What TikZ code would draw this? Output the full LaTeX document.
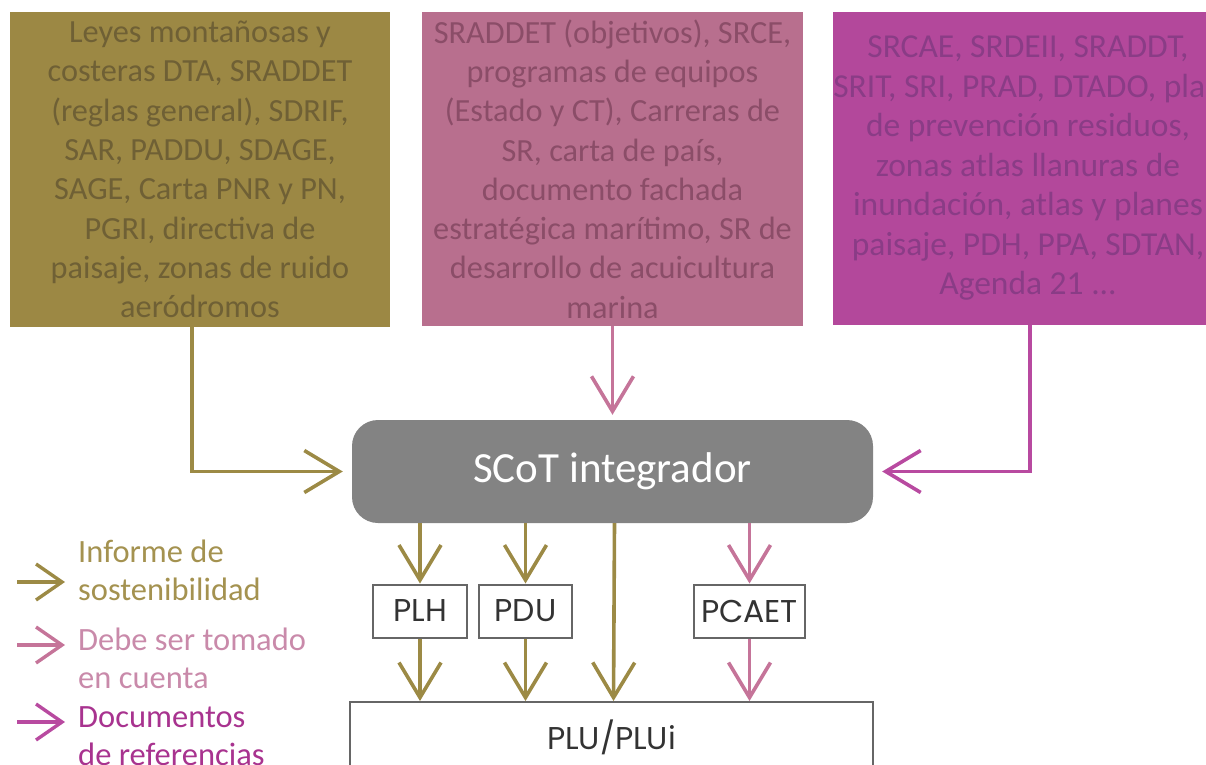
\documentclass[tikz,border=0pt]{standalone}
\usepackage{fontspec}
\setmainfont{Carlito}
\newfontfamily\geo{Poppins}
\usetikzlibrary{arrows.meta}
\definecolor{cOneFill}{HTML}{9C8844}
\definecolor{cOneText}{HTML}{6F6035}
\definecolor{cTwoFill}{HTML}{B86F8E}
\definecolor{cTwoText}{HTML}{8B4D68}
\definecolor{cThreeFill}{HTML}{B3489B}
\definecolor{cThreeText}{HTML}{8A3C86}
\definecolor{arrOlive}{HTML}{9C8A45}
\definecolor{arrPink}{HTML}{C57499}
\definecolor{arrMag}{HTML}{B84AA0}
\definecolor{scotFill}{HTML}{838383}
\definecolor{boxLine}{HTML}{666666}
\definecolor{legOlive}{HTML}{A49250}
\definecolor{legPink}{HTML}{C98AAA}
\definecolor{legMag}{HTML}{A8338F}
\tikzset{
  topbox/.style={rectangle, inner sep=0pt, align=center,
    font=\fontsize{32.3}{39.3}\selectfont},
  smallbox/.style={rectangle, draw=boxLine, line width=2pt, fill=white,
    inner sep=0pt, minimum height=53pt, text=black!80,
    font=\geo\fontsize{31.5}{34}\selectfont},
  bigarrow/.style={line width=3.6pt, -{Straight Barb[length=35pt,width=42pt]}},
  legarrow/.style={line width=3.4pt, -{Straight Barb[length=26pt,width=36pt]}},
  legtext/.style={anchor=west, align=left, inner sep=0pt,
    font=\fontsize{32.5}{38}\selectfont},
}
\begin{document}
\begin{tikzpicture}[x=1pt,y=-1pt]
\useasboundingbox (0,0) rectangle (1206,764);
% top boxes
\node[topbox, fill=cOneFill, text=cOneText, minimum width=380pt, minimum height=315pt] (box1) at (200,169.5)
  {Leyes montañosas y\\costeras DTA, SRADDET\\(reglas general), SDRIF,\\SAR, PADDU, SDAGE,\\SAGE, Carta PNR y PN,\\PGRI, directiva de\\paisaje, zonas de ruido\\aeródromos};
\node[topbox, fill=cTwoFill, text=cTwoText, minimum width=381pt, minimum height=314pt] (box2) at (612.5,169)
  {SRADDET (objetivos), SRCE,\\programas de equipos\\(Estado y CT), Carreras de\\SR, carta de país,\\documento fachada\\estratégica marítimo, SR de\\desarrollo de acuicultura\\marina};
\node[topbox, fill=cThreeFill, text=cThreeText, minimum width=390pt, minimum height=313pt,
  font=\fontsize{33.5}{39.5}\selectfont] (box3) at (1028,168.5)
  {SRCAE, SRDEII, SRADDT,\\SRIT, SRI, PRAD, DTADO, plan\\de prevención residuos,\\zonas atlas llanuras de\\inundación, atlas y planes\\paisaje, PDH, PPA, SDTAN,\\Agenda 21 ...};
% central
\node[rectangle, rounded corners=26pt, fill=scotFill, text=white, minimum width=521pt, minimum height=103pt,
  font=\fontsize{43}{46}\selectfont] (scot) at (612.5,471.5) {SCoT integrador};
\node[smallbox, minimum width=94pt] (plh) at (420,611) {PLH};
\node[smallbox, minimum width=93pt] (pdu) at (525.5,611) {PDU};
\node[smallbox, minimum width=111pt] (pcaet) at (749.5,611) {PCAET};
\node[rectangle, draw=boxLine, line width=2pt, fill=white, minimum width=523pt, minimum height=70pt,
  inner sep=0pt, text=black!80, font=\geo\fontsize{31.5}{34}\selectfont] (plu) at (611.5,737) {PLU/PLUi};
% connectors
\draw[bigarrow, arrOlive] ([xshift=-8pt]box1.south) |- ([xshift=-9pt]scot.west);
\draw[bigarrow, arrPink] (box2.south) -- ([yshift=5pt]scot.north);
\draw[bigarrow, arrMag] ([xshift=2pt]box3.south) |- ([xshift=9pt]scot.east);
\draw[bigarrow, arrOlive] (scot.south -| plh.north) -- (plh.north);
\draw[bigarrow, arrOlive] (scot.south -| pdu.north) -- (pdu.north);
\draw[bigarrow, arrPink] (scot.south -| pcaet.north) -- (pcaet.north);
\draw[bigarrow, arrOlive] (plh.south) -- (plh.south |- plu.north);
\draw[bigarrow, arrOlive] (pdu.south) -- (pdu.south |- plu.north);
\draw[bigarrow, arrOlive] ([xshift=2pt]scot.south) -- ([xshift=2pt]plu.north);
\draw[bigarrow, arrPink] (pcaet.south) -- (pcaet.south |- plu.north);
% legend
\coordinate (l1a) at (17,582); \coordinate (l1b) at (65,582);
\coordinate (l2a) at (17,645); \coordinate (l2b) at (65,645);
\coordinate (l3a) at (17,722); \coordinate (l3b) at (65,722);
\draw[legarrow, arrOlive] (l1a) -- (l1b);
\draw[legarrow, arrPink] (l2a) -- (l2b);
\draw[legarrow, arrMag] (l3a) -- (l3b);
\node[legtext, text=legOlive] (t1) at (78,570) {Informe de\\sostenibilidad};
\node[legtext, text=legPink] (t2) at (78,658) {Debe ser tomado\\en cuenta};
\node[legtext, text=legMag] (t3) at (78,736) {Documentos\\de referencias};
\end{tikzpicture}
\end{document}
